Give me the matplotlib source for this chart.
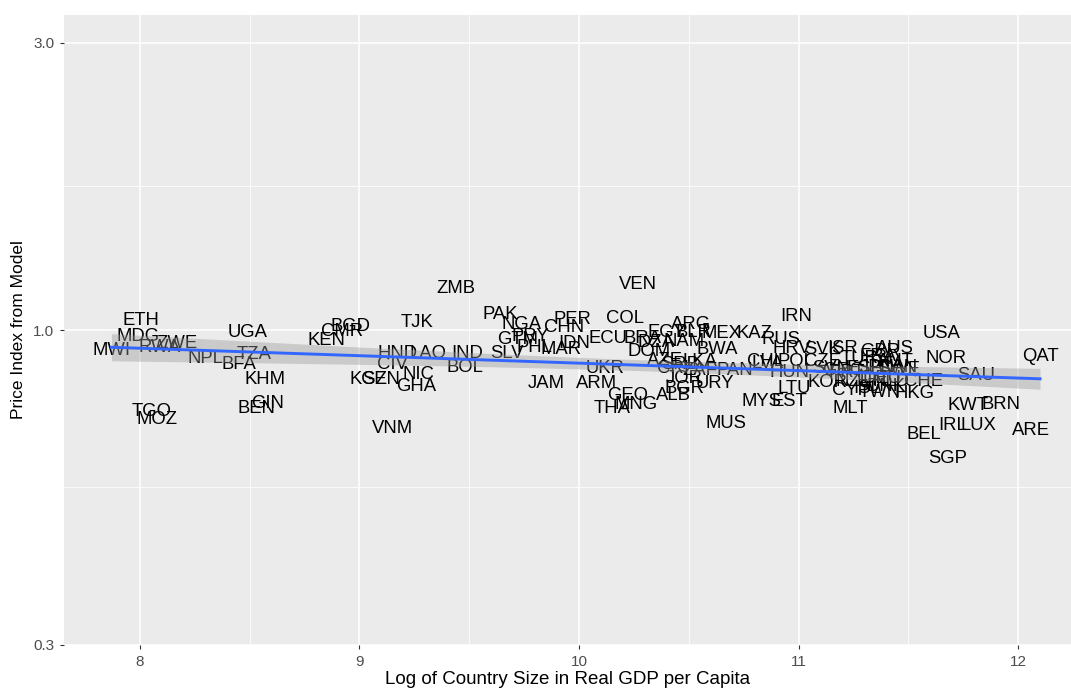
import numpy as np
import matplotlib
matplotlib.use("Agg")
import matplotlib.pyplot as plt
from matplotlib.ticker import FixedLocator, NullFormatter

plt.rcParams['font.family'] = ['Liberation Sans', 'DejaVu Sans']

countries = ["MWI", "ETH", "MDG", "RWA", "ZWE", "NPL", "UGA", "TZA", "BFA", "KHM",
             "BEN", "GIN", "TGO", "MOZ", "KEN", "CMR", "BGD", "KGZ", "SEN", "CIV",
             "HND", "LAO", "NIC", "GHA", "TJK", "ZMB", "IND", "BOL", "VNM", "SLV",
             "PAK", "NGA", "GTM", "PRY", "PHL", "CHN", "PER", "IDN", "MAR", "ECU",
             "JAM", "ARM", "UKR", "VEN", "COL", "BRA", "EGY", "ARG", "BLR", "MEX",
             "KAZ", "DOM", "DZA", "NAM", "BWA", "AZE", "SRB", "LKA", "CRI", "ZAF",
             "PAN", "JOR", "URY", "BGR", "ALB", "GEO", "THA", "MNG", "IRN", "RUS",
             "HRV", "SVK", "ISR", "GBR", "AUS", "POL", "LVA", "CHL", "CZE", "HUN",
             "LTU", "EST", "MYS", "MUS", "MLT", "CYP", "KOR", "HKG", "CHE", "DEU",
             "NOR", "USA", "SAU", "QAT", "KWT", "BRN", "IRL", "LUX", "BEL", "ARE",
             "SGP", "TUR", "FRA", "AUT", "ESP", "JPN", "CAN", "GRC", "SVN", "PRT",
             "FIN", "NLD", "DNK", "TWN", "ISL", "NZL", "ITA", "SWE"]

log_gdp = [7.87, 8.005, 7.99, 8.09, 8.17, 8.30, 8.49, 8.52, 8.45, 8.57,
           8.53, 8.58, 8.055, 8.08, 8.85, 8.92, 8.96, 9.04, 9.10, 9.15,
           9.175, 9.31, 9.27, 9.26, 9.26, 9.44, 9.49, 9.48, 9.15, 9.67,
           9.64, 9.74, 9.72, 9.78, 9.795, 9.93, 9.97, 9.98, 9.92, 10.13,
           9.85, 10.08, 10.12, 10.27, 10.21, 10.29, 10.40, 10.51, 10.52, 10.65,
           10.80, 10.32, 10.35, 10.48, 10.63, 10.39, 10.46, 10.55, 10.43, 10.55,
           10.71, 10.48, 10.62, 10.48, 10.43, 10.22, 10.15, 10.26, 10.99, 10.92,
           10.97, 11.11, 11.20, 11.37, 11.44, 10.99, 10.86, 10.85, 11.11, 10.96,
           10.98, 10.96, 10.83, 10.67, 11.235, 11.24, 11.13, 11.53, 11.57, 11.38,
           11.67, 11.65, 11.81, 12.10, 11.77, 11.92, 11.70, 11.82, 11.57, 12.06,
           11.68, 11.28, 11.36, 11.44, 11.30, 11.36, 11.45, 11.20, 11.15, 11.22,
           11.33, 11.42, 11.40, 11.37, 11.31, 11.25, 11.42, 11.46]

price_index = [0.926, 1.039, 0.977, 0.937, 0.951, 0.898, 0.989, 0.909, 0.878, 0.829,
               0.742, 0.756, 0.733, 0.711, 0.962, 0.996, 1.015, 0.826, 0.826, 0.875,
               0.915, 0.915, 0.845, 0.807, 1.031, 1.174, 0.915, 0.868, 0.687, 0.915,
               1.063, 1.023, 0.966, 0.977, 0.937, 1.008, 1.043, 0.951, 0.929, 0.969,
               0.814, 0.814, 0.862, 1.192, 1.047, 0.969, 0.992, 1.023, 0.992, 0.988,
               0.985, 0.922, 0.955, 0.958, 0.929, 0.891, 0.878, 0.888, 0.862, 0.855,
               0.855, 0.832, 0.814, 0.801, 0.777, 0.777, 0.742, 0.751, 1.055, 0.966,
               0.933, 0.929, 0.931, 0.922, 0.933, 0.888, 0.881, 0.888, 0.888, 0.849,
               0.798, 0.762, 0.762, 0.698, 0.742, 0.792, 0.817, 0.783, 0.820, 0.832,
               0.898, 0.988, 0.839, 0.905, 0.748, 0.753, 0.695, 0.695, 0.671, 0.682,
               0.611, 0.898, 0.905, 0.888, 0.862, 0.865, 0.868, 0.855, 0.862, 0.849,
               0.823, 0.820, 0.807, 0.786, 0.798, 0.820, 0.877, 0.859]

x_ticks = [8, 9, 10, 11, 12]
y_ticks = [0.3, 1.0, 3.0]
y_tick_labels = ["0.3", "1.0", "3.0"]

x = np.array(log_gdp)
y = np.array(price_index)

fig = plt.figure(figsize=(10.71, 6.89), dpi=100)
ax = fig.add_axes([64/1071, 1-645/689, 1-64/1071, (645-15)/689])
ax.set_facecolor('#EBEBEB')
ax.set_yscale('log')
ax.set_xlim(7.654, 12.241)
ax.set_ylim(0.2997, 3.337)

# grid
for xv in x_ticks:
    ax.axvline(xv, color='white', lw=1.1, zorder=0.5)
for xv in np.arange(7.5, 12.6, 1.0):
    ax.axvline(xv, color='white', lw=0.55, zorder=0.5)
for yv in y_ticks:
    ax.axhline(yv, color='white', lw=1.1, zorder=0.5)
ly = np.log10(y_ticks)
for a, b in zip(ly[:-1], ly[1:]):
    ax.axhline(10 ** ((a + b) / 2), color='white', lw=0.55, zorder=0.5)

for s in ax.spines.values():
    s.set_visible(False)

# labels
for c, xv, yv in zip(countries, x, y):
    ax.text(xv, yv, c, ha='center', va='center', fontsize=13.3, color='black', zorder=2)

# linear fit on log10 scale with 95% CI
ly_data = np.log10(y)
n = len(x)
X = np.column_stack([np.ones(n), x])
beta, *_ = np.linalg.lstsq(X, ly_data, rcond=None)
resid = ly_data - X @ beta
s2 = resid @ resid / (n - 2)
XtXi = np.linalg.inv(X.T @ X)
xs = np.linspace(x.min(), x.max(), 80)
Xs = np.column_stack([np.ones_like(xs), xs])
fit = Xs @ beta
se = np.sqrt(np.einsum('ij,jk,ik->i', Xs, XtXi, Xs) * s2)
tcrit = 1.98
ax.fill_between(xs, 10 ** (fit - tcrit * se), 10 ** (fit + tcrit * se),
                color='#999999', alpha=0.4, lw=0, zorder=3)
ax.plot(xs, 10 ** fit, color='#3366FF', lw=2.1, zorder=4)

ax.xaxis.set_major_locator(FixedLocator(x_ticks))
ax.set_xticklabels([str(t) for t in x_ticks])
ax.yaxis.set_major_locator(FixedLocator(y_ticks))
ax.yaxis.set_minor_locator(FixedLocator([]))
ax.yaxis.set_minor_formatter(NullFormatter())
ax.set_yticklabels(y_tick_labels)
ax.tick_params(axis='both', which='major', length=3, width=0.8, color='#333333',
               labelcolor='#4D4D4D', labelsize=11, pad=4)

ax.set_xlabel("Log of Country Size in Real GDP per Capita", fontsize=13.5, color='black', labelpad=1.5)
ax.set_ylabel("Price Index from Model", fontsize=12.5, color='black', labelpad=5)

fig.savefig("out.png", dpi=100, facecolor='white')
